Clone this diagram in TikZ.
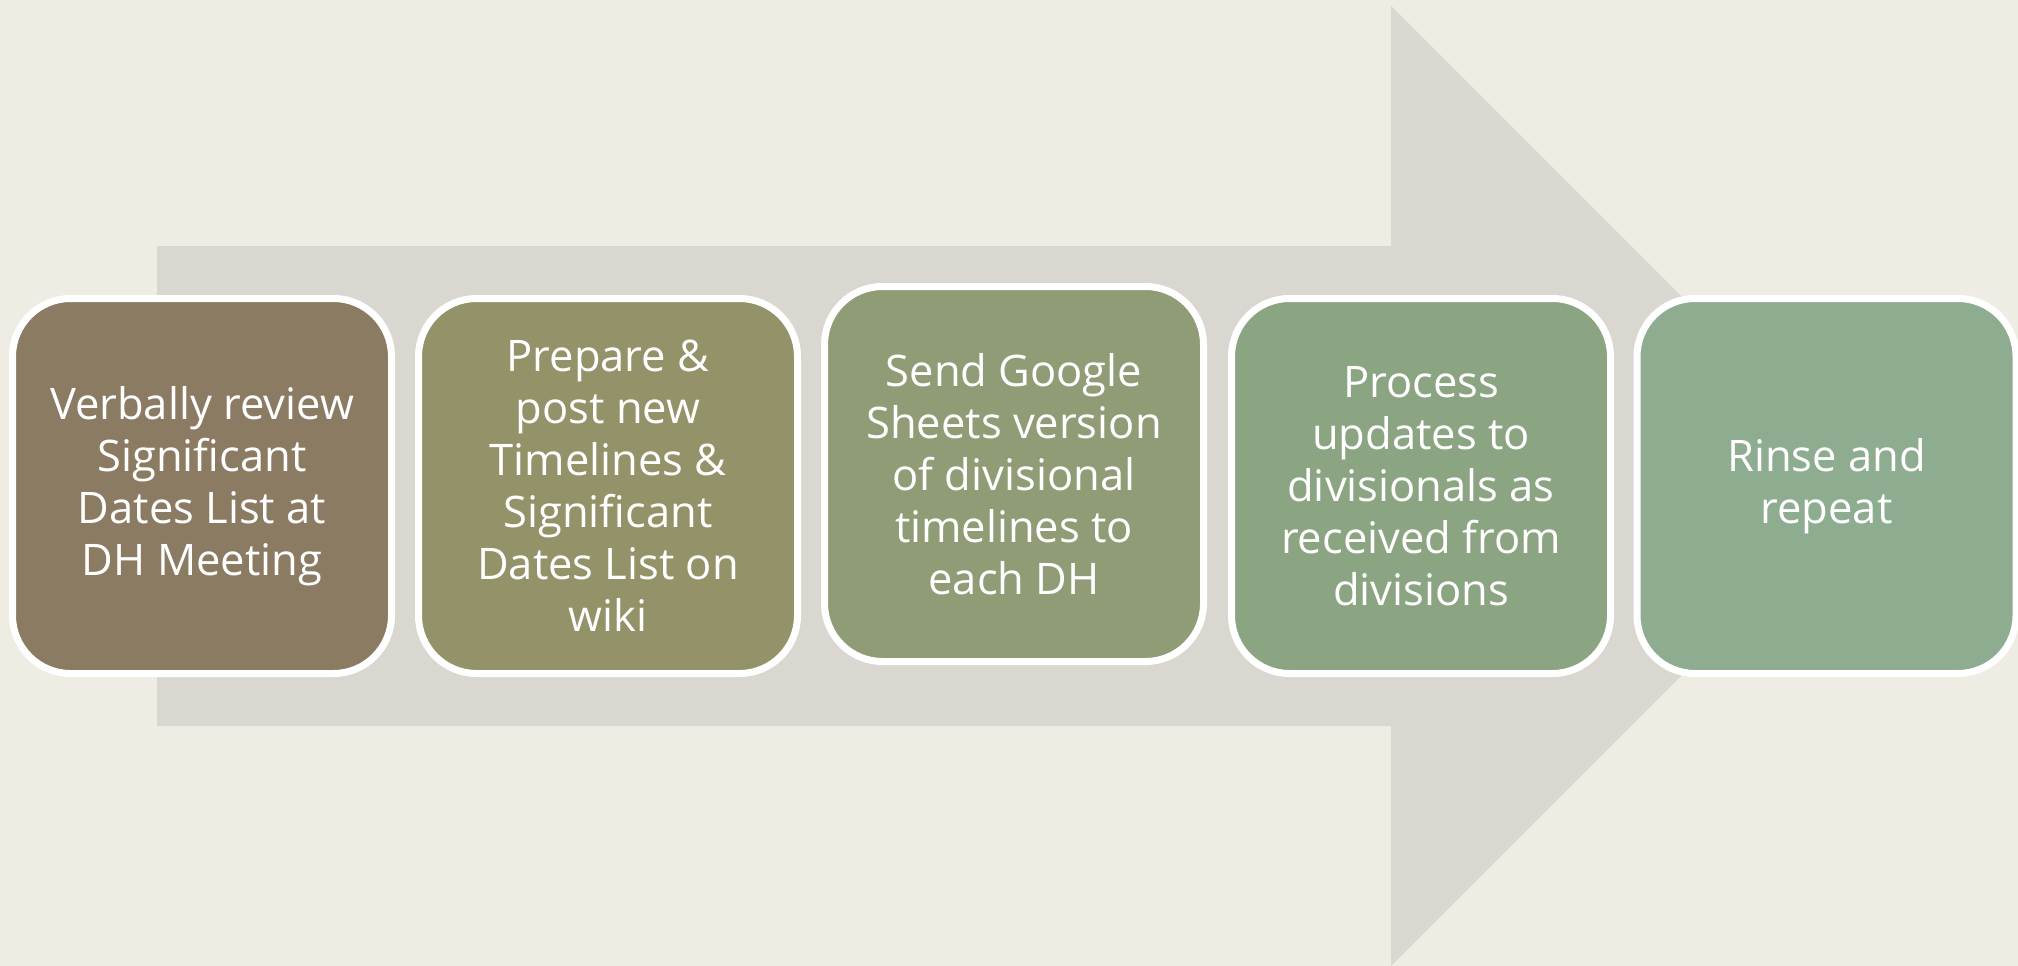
\documentclass[tikz,border=0pt]{standalone}
\usepackage{fontspec}
\setmainfont{Open Sans}
\definecolor{bg}{RGB}{239,236,228}
\definecolor{arr}{RGB}{218,215,209}
\definecolor{cA}{RGB}{138,123,98}
\definecolor{cB}{RGB}{147,146,104}
\definecolor{cC}{RGB}{144,156,118}
\definecolor{cD}{RGB}{139,164,130}
\definecolor{cE}{RGB}{142,172,143}
\tikzset{
  stepbox/.style={draw=white, line width=7pt, rounded corners=58pt,
    minimum width=379pt, minimum height=375pt, inner sep=0pt,
    align=center, text=white, font=\fontsize{43.5}{52}\selectfont}
}
\begin{document}
\begin{tikzpicture}[x=1pt,y=-1pt]
\fill[bg] (0,0) rectangle (2018,966);
\useasboundingbox (0,0) rectangle (2018,966);
\fill[arr] (157,246) -- (1391,246) -- (1391,6) -- (1871,486) -- (1391,966) -- (1391,726) -- (157,726) -- cycle;
\node[stepbox, fill=cA] (s1) at (202,486) {Verbally review\\Significant\\Dates List at\\DH Meeting};
\node[stepbox, fill=cB] (s2) at (608,486) {Prepare \&\\post new\\Timelines \&\\Significant\\Dates List on\\wiki};
\node[stepbox, fill=cC] (s3) at (1014,474) {Send Google\\Sheets version\\of divisional\\timelines to\\each DH};
\node[stepbox, fill=cD] (s4) at (1421,486) {Process\\updates to\\divisionals as\\received from\\divisions};
\node[stepbox, fill=cE] (s5) at (1826.5,486) {Rinse and\\repeat};
\end{tikzpicture}
\end{document}
